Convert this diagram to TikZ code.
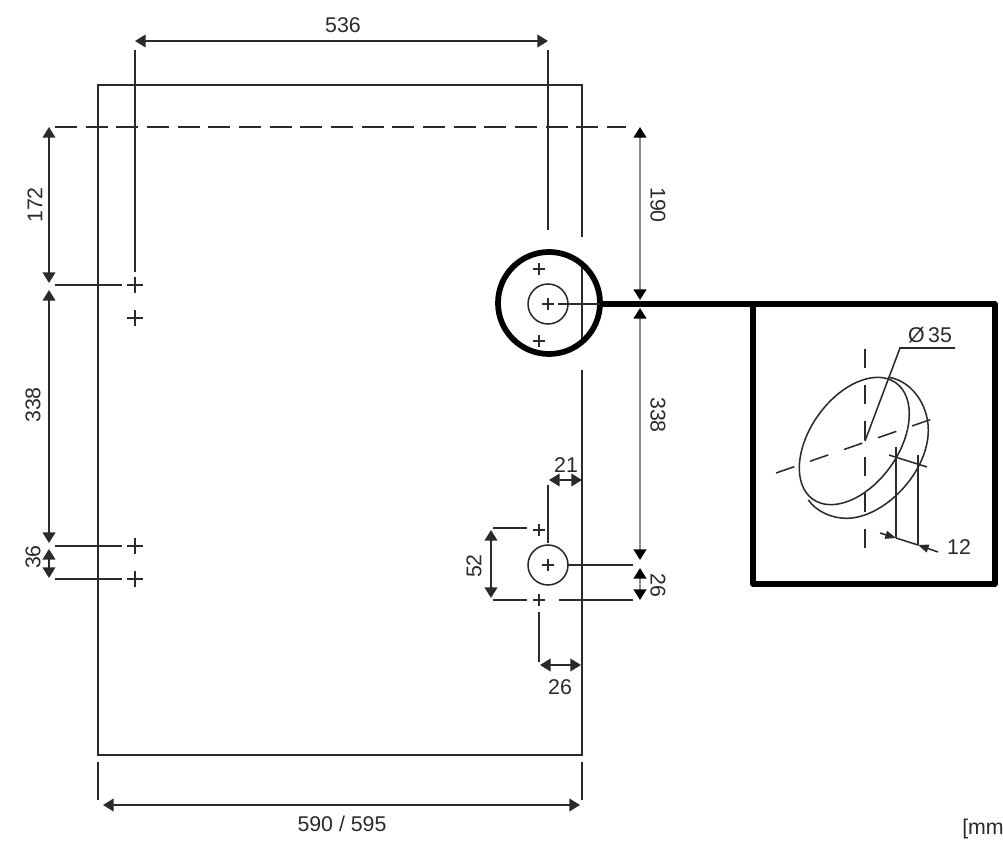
\documentclass[tikz,border=0pt]{standalone}
\usepackage{fontspec}
\setmainfont{Liberation Sans}
\usetikzlibrary{arrows.meta}
\definecolor{ink}{HTML}{2A2A2A}
\definecolor{shaft}{HTML}{8A8A8A}
\tikzset{
  x=0.75pt,y=-0.75pt,
  ln/.style={draw=ink,line width=1.15pt},
  fine/.style={draw=ink,line width=1.15pt},
  heavy/.style={draw=black,line width=4.3pt},
  dashln/.style={ln,dash pattern=on 16.5pt off 6.5pt},
  axisln/.style={ln,dash pattern=on 14.5pt off 12.5pt},
  tip/.style={{Triangle[length=8pt,width=9.5pt]}-{Triangle[length=8pt,width=9.5pt]}},
  dimln/.style={draw=ink,line width=1.4pt,tip},
  graydim/.style={draw=shaft,line width=1.7pt,{Triangle[length=8pt,width=9.5pt,color=black]}-{Triangle[length=8pt,width=9.5pt,color=black]}},
  lab/.style={font=\fontsize{16}{18}\selectfont,text=ink,inner sep=0pt},
  plusmark/.pic={\draw[ln] (-8,0)--(8,0) (0,-8)--(0,8);},
  smallplus/.pic={\draw[ln] (-6,0)--(6,0) (0,-6)--(0,6);},
  smalltip/.style={-{Triangle[length=8pt,width=6pt]}},
}
\begin{document}
\begin{tikzpicture}
\useasboundingbox (0,0) rectangle (1003,845);
% panel outline
\draw[ln] (582,237)--(582,85)--(98,85)--(98,755)--(582,755)--(582,370);
\draw[ln] (582,267)--(582,340);
% top dashed line and long extension lines
\draw[dashln] (55,127)--(626,127);
\draw[ln] (135,50)--(135,272);
\draw[ln] (548,50)--(548,230);
\draw[dimln] (135,41)--(548,41);
\node[lab] (l536) at (343,25) {536};
% left side
\foreach \n/\py in {a/285,b/318,c/546,d/579} \pic at (135,\py) {plusmark};
\draw[ln] (55,285)--(122,285) (55,546)--(122,546) (55,579)--(122,579);
\draw[dimln] (49,127)--(49,283);
\draw[dimln] (49,290)--(49,543);
\draw[dimln] (49,549)--(49,578);
\node[lab,rotate=90] (l172) at (35,205) {172};
\node[lab,rotate=90] (l338a) at (33,405) {338};
\node[lab,rotate=90] (l36) at (33,557) {36};
% right side dimensions
\draw[graydim] (640,127)--(640,300);
\draw[graydim] (640,308)--(640,560);
\draw[graydim] (640,568)--(640,600);
\node[lab,rotate=-90] (l190) at (658,205) {190};
\node[lab,rotate=-90] (l338b) at (658,415) {338};
\node[lab,rotate=-90] (l26a) at (658,585) {26};
% magnified circle
\draw[heavy] (549,303) circle (51);
\draw[ln] (548,304) circle (20);
\pic at (548,304) {smallplus};
\pic at (539,269) {smallplus};
\pic at (539,341) {smallplus};
\draw[ln] (558,304)--(600,304);
% detail box
\draw[heavy,line join=round] (600,304)--(995,304)--(995,584)--(753,584)--(753,304);
\draw[axisln] (865,349)--(865,555);
\draw[axisln] (776,473)--(935,418);
\draw[fine,rotate around={54.5:(854.3,441)}] (854.3,441) ellipse [x radius=71.5,y radius=44.3];
\draw[fine] (888.3,377.3) .. controls (910,380) and (928.3,403.3) .. (928.3,430)
  .. controls (928.3,473.3) and (883.3,518.3) .. (846.7,518.3)
  .. controls (831.7,518.3) and (816.7,511.7) .. (808.3,500);
\draw[fine] (865,441)--(900,348)--(955,348);
\node[lab] (ldia) at (930,335) {Ø\,35};
\draw[fine] (889,455)--(927,467);
\draw[fine] (896,447)--(896,538);
\draw[fine] (918,455)--(918,545);
\draw[fine] (896,538)--(918,545);
\draw[fine,smalltip] (880,533)--(896,538);
\draw[fine,smalltip] (938,552)--(918,545);
\node[lab] (l12) at (959,547) {12};
% lower holes
\draw[ln] (548,565) circle (20);
\pic at (548,565) {smallplus};
\pic at (539,530) {smallplus};
\pic at (539,600) {smallplus};
\draw[ln] (493,528)--(527,528);
\draw[ln] (493,600)--(527,600) (559,600)--(633,600);
\draw[ln] (567,565)--(633,565);
\draw[ln] (548,485)--(548,543);
\draw[ln] (539,612)--(539,662);
\draw[dimln] (491,530)--(491,598);
\draw[dimln] (549,480)--(582,480);
\draw[dimln] (540,665)--(581,665);
\node[lab] (l21) at (566,465) {21};
\node[lab,rotate=90] (l52) at (474,566) {52};
\node[lab] (l26b) at (560,687) {26};
% bottom
\draw[ln] (98,762)--(98,800) (582,762)--(582,800);
\draw[dimln] (103,805)--(580,805);
\node[lab] (lw) at (342,824) {590 / 595};
\node[lab,anchor=west] (lunit) at (962,829) {[mm};
\end{tikzpicture}
\end{document}
